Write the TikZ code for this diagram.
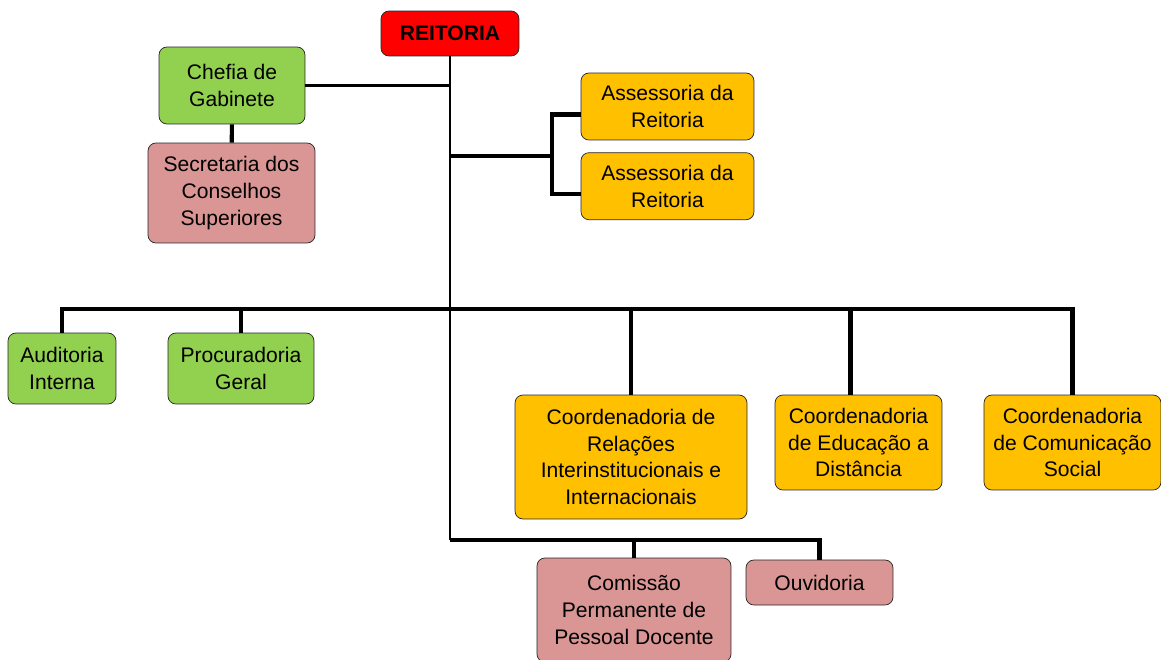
\documentclass[tikz,border=0pt]{standalone}
\usepackage{fontspec}
\setmainfont{Liberation Sans}
\usetikzlibrary{positioning}
\definecolor{vermelho}{HTML}{FF0000}
\definecolor{verde}{HTML}{92D050}
\definecolor{rosa}{HTML}{D99694}
\definecolor{ouro}{HTML}{FFC000}

\begin{document}
\begin{tikzpicture}[x=0.02cm,y=-0.02cm,
  caixa/.style={draw=black!85,rounded corners=4.5pt,align=center,inner sep=1pt,font=\fontsize{12}{15.3}\selectfont},
  link/.style={line width=1.3pt},
  bus/.style={line width=2.3pt}]
\useasboundingbox (0,0) rectangle (1161,660);

\node[caixa,fill=vermelho,minimum width=2.76cm,minimum height=0.9cm,font=\fontsize{12}{15.3}\selectfont\bfseries] (reit) at (450,33.5) {REITORIA};
\node[caixa,fill=verde,minimum width=2.92cm,minimum height=1.54cm] (chefia) at (232,85.5) {Chefia de\\Gabinete};
\node[caixa,fill=rosa,minimum width=3.34cm,minimum height=2cm] (secret) at (231.5,193) {Secretaria dos\\Conselhos\\Superiores};
\node[caixa,fill=ouro,minimum width=3.46cm,minimum height=1.34cm] (ass1) at (667.5,106.5) {Assessoria da\\Reitoria};
\node[caixa,fill=ouro,minimum width=3.46cm,minimum height=1.34cm,below=0.24cm of ass1] (ass2) {Assessoria da\\Reitoria};

\node[caixa,fill=verde,minimum width=2.16cm,minimum height=1.42cm] (audit) at (62,368.5) {Auditoria\\Interna};
\node[caixa,fill=verde,minimum width=2.92cm,minimum height=1.42cm] (proc) at (241,368.5) {Procuradoria\\Geral};
\node[caixa,fill=ouro,minimum width=4.64cm,minimum height=2.48cm] (crel) at (631,457) {Coordenadoria de\\Relações\\Interinstitucionais e\\Internacionais};
\node[caixa,fill=ouro,minimum width=3.34cm,minimum height=1.9cm] (cedu) at (858.5,442.5) {Coordenadoria\\de Educação a\\Distância};
\node[caixa,fill=ouro,minimum width=3.54cm,minimum height=1.9cm] (ccom) at (1072.5,442.5) {Coordenadoria\\de Comunicação\\Social};

\node[caixa,fill=rosa,minimum width=3.88cm,minimum height=2.08cm] (comis) at (634,610) {Comissão\\Permanente de\\Pessoal Docente};
\node[caixa,fill=rosa,minimum width=2.94cm,minimum height=0.9cm] (ouvid) at (819.5,582.5) {Ouvidoria};

\coordinate (jass) at (552,156);
\coordinate (bus) at (0,309);
\coordinate (baixo) at (450,540);

% tronco da reitoria
\draw[link] (reit) -- (baixo);
\draw[link] (chefia.east) -- (chefia.east -| reit);
\draw[bus] (chefia) -- (secret);

% assessorias
\draw[bus] (jass -| reit) -- (jass);
\draw[bus] ([yshift=-0.16cm]ass1.west) -| (jass) |- ([yshift=-0.16cm]ass2.west);

% barramento principal
\draw[bus] (audit.north) -- (audit.north |- bus) -- (ccom.north |- bus) -- (ccom.north);
\foreach \n in {proc,crel}
  \draw[bus] (\n.north) -- (\n.north |- bus);
\draw[bus] ([xshift=-0.16cm]cedu.north) -- ([xshift=-0.16cm]cedu.north |- bus);

% ramo inferior
\draw[bus] (baixo) -| (ouvid);
\draw[bus] (comis) -- (comis |- baixo);
\end{tikzpicture}
\end{document}
